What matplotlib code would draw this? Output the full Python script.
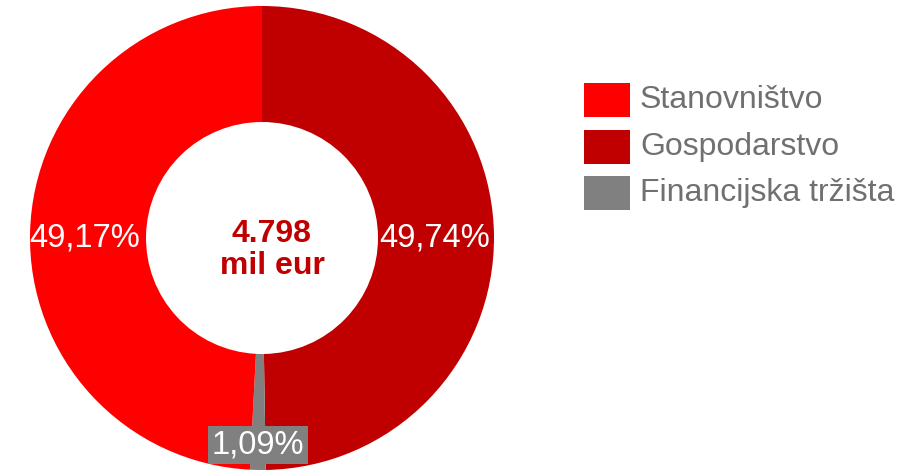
import matplotlib
matplotlib.use("Agg")
import matplotlib.pyplot as plt
from matplotlib.patches import Rectangle

plt.rcParams['font.family'] = ['Liberation Sans', 'DejaVu Sans']

# Data (clockwise from 12 o'clock)
categories = ["Gospodarstvo", "Financijska tržišta", "Stanovništvo"]
values = [49.74, 1.09, 49.17]
labels = ["49,74%", "1,09%", "49,17%"]
colors = ["#C00000", "#808080", "#FF0000"]

legend_order = ["Stanovništvo", "Gospodarstvo", "Financijska tržišta"]
center_text = "4.798\nmil eur"

W, H = 912, 472
fig = plt.figure(figsize=(W / 100, H / 100), dpi=100)
ax = fig.add_axes([0, 0, 1, 1])

cx, cy = 262, H - 238
R_out, R_in = 232, 116
wedges, _ = ax.pie(values, colors=colors, startangle=90, counterclock=False,
                   center=(cx, cy), radius=R_out,
                   wedgeprops=dict(width=R_out - R_in, linewidth=0),
                   frame=True)
ax.set_xlim(0, W)
ax.set_ylim(0, H)
ax.set_aspect('equal')
ax.axis('off')

# value labels
ax.text(cx + 173, cy, labels[0], ha='center', va='center', fontsize=23.5, color='white')
ax.text(cx - 177, cy, labels[2], ha='center', va='center', fontsize=23.5, color='white')
ax.text(cx - 4, H - 445, labels[1], ha='center', va='center', fontsize=23.5, color='white',
        bbox=dict(boxstyle='square,pad=0.1', facecolor=colors[1], edgecolor='none'))

# center text
ax.text(cx + 10, H - 250, center_text, ha='center', va='center', fontsize=23,
        fontweight='bold', color='#C00000', linespacing=1.1)

# legend
cmap = dict(zip(categories, colors))
for i, name in enumerate(legend_order):
    top = 83 + i * 46.7
    ax.add_patch(Rectangle((584, H - top - 34), 46, 34, facecolor=cmap[name], edgecolor='none'))
    ax.text(640, H - top - 17, name, ha='left', va='center', fontsize=23, color='#707070')

fig.savefig("out.png", dpi=100)
